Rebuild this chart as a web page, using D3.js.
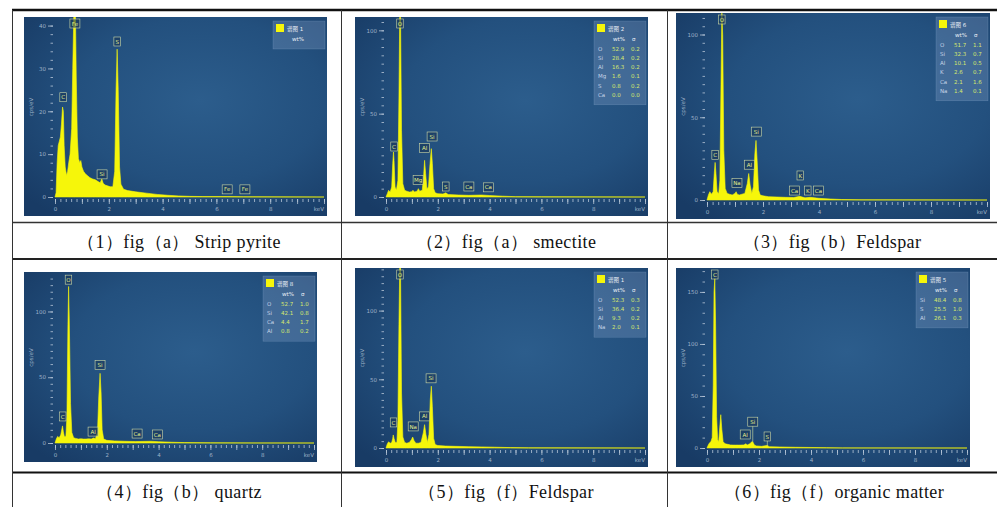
<!DOCTYPE html>
<html>
<head>
<meta charset="utf-8">
<script src="https://cdn.jsdelivr.net/npm/d3@7"></script>
<style>
    body { margin: 0; background: #fff; }
    svg { display: block; }
    .caption { font-family: "Liberation Serif", "DejaVu Serif", serif; font-size: 18px; letter-spacing: 0.4px; fill: #111; }
    .axis .tick text { font-family: "DejaVu Sans", sans-serif; font-size: 5.5px; fill: #9fb2c8; }
    .axis .tick line { stroke: #b7c6d8; stroke-width: 0.8; }
    .small { font-family: "DejaVu Sans", "Noto Sans CJK SC", sans-serif; }
</style>
</head>
<body>
<div id="chart"></div>
<script>
// Captions of the six cells
const captions = [
    '（1）fig（a） Strip pyrite',
    '（2）fig（a） smectite',
    '（3）fig（b）Feldspar',
    '（4）fig（b） quartz',
    '（5）fig（f）Feldspar',
    '（6）fig（f）organic matter'
];

// Spectra: [energy keV, counts cps/eV]
const spectrumPyrite = [[0,0],[0.04,1],[0.08,8],[0.12,12],[0.16,13],[0.2,14],[0.24,17],[0.28,21],[0.31,20],[0.34,12],[0.38,7],[0.43,5],[0.47,6],[0.51,8],[0.56,10],[0.62,16],[0.66,30],[0.7,43],[0.76,43],[0.79,28],[0.83,14],[0.87,9],[0.92,8],[0.96,8.5],[1.0,7],[1.06,6],[1.12,5.5],[1.2,5],[1.3,4.5],[1.4,4.2],[1.5,4],[1.6,3.6],[1.68,3.3],[1.74,4.2],[1.79,3.2],[1.86,2.8],[1.95,2.6],[2.05,2.4],[2.15,2.4],[2.22,6],[2.27,25],[2.31,34.5],[2.35,25],[2.4,7],[2.45,3],[2.55,1.8],[2.7,1.5],[3.0,1.2],[3.4,0.9],[3.8,0.6],[4.2,0.4],[4.6,0.25],[5.0,0.15],[5.5,0.1],[6.4,0.1],[7.0,0.05],[10,0]];
const spectrumSmectite = [[0,0],[0.05,2],[0.1,4],[0.16,3],[0.22,6],[0.26,20],[0.29,27],[0.31,22],[0.35,6],[0.4,4],[0.46,10],[0.5,60],[0.53,110],[0.56,110],[0.6,40],[0.65,8],[0.72,4],[0.8,3.5],[0.9,3],[1.0,3.2],[1.04,4],[1.1,3],[1.2,3.5],[1.25,5],[1.3,3.5],[1.4,4],[1.45,12],[1.49,22],[1.53,14],[1.58,5],[1.64,6],[1.7,20],[1.75,29],[1.79,20],[1.84,5],[1.9,2.5],[2.0,2],[2.2,1.8],[2.31,2.5],[2.4,1.5],[2.8,1.2],[3.2,1],[3.69,1.2],[4.0,0.9],[4.5,0.5],[5,0.2],[6,0.1],[10,0]];
const spectrumFeldsparB = [[0,0],[0.05,3],[0.1,5],[0.16,3.5],[0.22,5],[0.26,16],[0.29,22.7],[0.32,16],[0.36,5],[0.42,4],[0.46,12],[0.5,70],[0.53,113],[0.56,100],[0.6,30],[0.65,7],[0.72,4],[0.8,3.5],[0.9,3],[1.0,4],[1.04,5],[1.08,3.5],[1.15,3],[1.25,3.5],[1.35,4],[1.44,10],[1.49,16],[1.54,9],[1.6,4],[1.66,8],[1.71,28],[1.75,36],[1.79,24],[1.84,6],[1.9,3],[2.0,2.5],[2.2,2],[2.5,1.8],[2.8,1.6],[3.1,1.5],[3.31,2.2],[3.5,1.3],[3.69,1.6],[4.0,1],[4.4,0.6],[4.8,0.3],[5.5,0.1],[10,0]];
const spectrumQuartz = [[0,0],[0.05,3],[0.1,5],[0.16,4],[0.22,6],[0.26,10],[0.29,13],[0.32,9],[0.36,5],[0.42,5],[0.46,20],[0.5,90],[0.525,119],[0.55,95],[0.6,30],[0.65,8],[0.72,4],[0.8,3.5],[0.9,3],[1.0,3.2],[1.1,3],[1.2,3],[1.3,3.2],[1.4,3],[1.49,3.8],[1.56,3.2],[1.64,8],[1.69,35],[1.74,53],[1.78,38],[1.82,10],[1.88,3],[2.0,2],[2.3,1.6],[2.7,1.3],[3.1,1.1],[3.69,1.3],[4.0,1],[4.5,0.6],[5,0.3],[6,0.1],[10,0]];
const spectrumFeldsparF = [[0,0],[0.05,3],[0.1,4.5],[0.16,3.5],[0.22,4],[0.26,7],[0.28,9.5],[0.31,7],[0.36,4],[0.42,4],[0.46,20],[0.5,90],[0.53,131],[0.56,131],[0.6,40],[0.65,8],[0.72,4],[0.8,3.5],[0.9,4],[0.98,6],[1.03,8],[1.08,5.5],[1.15,3.5],[1.25,3.5],[1.35,4],[1.44,11],[1.49,17],[1.54,10],[1.6,4],[1.66,10],[1.71,35],[1.75,45],[1.79,30],[1.84,7],[1.9,2.5],[2.0,1.8],[2.3,1.4],[2.7,1.2],[3.2,1],[3.7,0.8],[4.2,0.6],[4.8,0.3],[5.5,0.1],[10,0]];
const spectrumOrganic = [[0,0],[0.05,3],[0.1,5],[0.15,6],[0.2,10],[0.24,60],[0.27,150],[0.3,163],[0.33,120],[0.37,30],[0.41,8],[0.45,6],[0.49,20],[0.53,32],[0.57,18],[0.62,6],[0.7,4],[0.8,3.5],[0.9,3],[1.0,2.8],[1.1,2.8],[1.2,2.8],[1.3,2.8],[1.42,3],[1.49,4],[1.55,3],[1.65,4],[1.72,6],[1.76,6],[1.82,3],[1.9,2],[2.1,1.6],[2.31,2.5],[2.4,1.3],[2.8,1],[3.4,0.7],[4.0,0.5],[4.6,0.3],[5.2,0.1],[10,0]];

// Peak labels: [element, keV, box bottom value, leader end value or null]
const labelsPyrite = [['C',0.3,22,null],['Fe',0.74,99,null],['S',2.31,35,null],['Si',1.75,4,null],['Fe',6.4,0.5,null],['Fe',7.06,0.5,null]];
const labelsSmectite = [['C',0.31,27,null],['O',0.54,999,null],['Mg',1.24,7,null],['Al',1.49,26,null],['Si',1.78,33,null],['S',2.31,3,null],['Ca',3.2,3,null],['Ca',3.95,2.5,null]];
const labelsFeldsparB = [['C',0.29,24,null],['O',0.53,999,null],['Na',1.07,7,null],['Al',1.51,18,null],['Si',1.76,38,null],['K',3.33,11.5,null],['Ca',3.13,2.4,null],['K',3.6,2.4,null],['Ca',3.98,2.4,null]];
const labelsQuartz = [['C',0.3,16,null],['O',0.52,120,null],['Al',1.47,4.5,null],['Si',1.74,55,null],['Ca',3.17,3,null],['Ca',3.95,2.3,null]];
const labelsFeldsparF = [['C',0.29,14.6,null],['O',0.54,999,null],['Na',1.05,11.7,null],['Al',1.49,19,null],['Si',1.74,46.7,null]];
const labelsOrganic = [['C',0.3,999,null],['Al',1.47,7.7,null],['Si',1.76,20,6],['S',2.32,5.8,2]];

// Legend titles and quantification tables: [element, wt%, sigma]
const legendTitles = ['谱图 1', '谱图 2', '谱图 6', '谱图 8', '谱图 1', '谱图 5'];
const legendPyrite = [];
const legendSmectite = [['O','52.9','0.2'],['Si','28.4','0.2'],['Al','16.3','0.2'],['Mg','1.6','0.1'],['S','0.8','0.2'],['Ca','0.0','0.0']];
const legendFeldsparB = [['O','51.7','1.1'],['Si','32.3','0.7'],['Al','10.1','0.5'],['K','2.6','0.7'],['Ca','2.1','1.6'],['Na','1.4','0.1']];
const legendQuartz = [['O','52.7','1.0'],['Si','42.1','0.8'],['Ca','4.4','1.7'],['Al','0.8','0.2']];
const legendFeldsparF = [['O','52.3','0.3'],['Si','36.4','0.2'],['Al','9.3','0.2'],['Na','2.0','0.1']];
const legendOrganic = [['Si','48.4','0.8'],['S','25.5','1.0'],['Al','26.1','0.3']];

// Axis extents and tick labels
const xMaxKeV = 10;
const xTickLabels = [0, 2, 4, 6, 8];
const yMax = [42, 108, 113, 130, 131, 173];
const yTickLabels = [[0,10,20,30,40],[0,50,100],[0,50,100],[0,50,100],[0,50,100],[0,50,100,150]];
const yMinorStep = [2, 5, 5, 5, 5, 10];

const spectra = [spectrumPyrite, spectrumSmectite, spectrumFeldsparB, spectrumQuartz, spectrumFeldsparF, spectrumOrganic];
const peakLabels = [labelsPyrite, labelsSmectite, labelsFeldsparB, labelsQuartz, labelsFeldsparF, labelsOrganic];
const legends = [legendPyrite, legendSmectite, legendFeldsparB, legendQuartz, legendFeldsparF, legendOrganic];

// Layout of the six picture frames (page pixels)
const frames = [
    {x: 24, y: 17, w: 303, h: 199},
    {x: 355, y: 17, w: 293, h: 199},
    {x: 676, y: 13, w: 314, h: 206},
    {x: 24, y: 272, w: 293, h: 190},
    {x: 355, y: 268, w: 293, h: 199},
    {x: 676, y: 268, w: 294, h: 199}
];
const captionPos = [[179, 248], [506, 248], [832, 248], [179, 498], [506, 498], [834, 498]];

const width = 997, height = 507;
const svg = d3.select('#chart').append('svg')
    .attr('width', width)
    .attr('height', height);

const defs = svg.append('defs');
const grad = defs.append('radialGradient')
    .attr('id', 'bg')
    .attr('cx', 0.58).attr('cy', 0.42).attr('r', 0.75);
grad.append('stop').attr('offset', '0%').attr('stop-color', '#2c5d8c');
grad.append('stop').attr('offset', '55%').attr('stop-color', '#23507e');
grad.append('stop').attr('offset', '100%').attr('stop-color', '#183b65');

// Table rules
const rules = svg.append('g');
rules.append('line').attr('x1', 12).attr('x2', width).attr('y1', 10).attr('y2', 10)
    .attr('stroke', '#111').attr('stroke-width', 2.5);
rules.append('line').attr('x1', 12).attr('x2', width).attr('y1', 222.5).attr('y2', 222.5)
    .attr('stroke', '#333').attr('stroke-width', 1.5);
rules.append('line').attr('x1', 12).attr('x2', width).attr('y1', 259).attr('y2', 259)
    .attr('stroke', '#222').attr('stroke-width', 2);
rules.append('line').attr('x1', 12).attr('x2', width).attr('y1', 472.5).attr('y2', 472.5)
    .attr('stroke', '#111').attr('stroke-width', 2);
[12.5, 341.5, 667.5].forEach(x => {
    rules.append('line').attr('x1', x).attr('x2', x).attr('y1', 10).attr('y2', height)
        .attr('stroke', '#333').attr('stroke-width', 1);
});

frames.forEach((f, i) => {
    const g = svg.append('g');

    // Frame background
    g.append('rect')
        .attr('x', f.x).attr('y', f.y).attr('width', f.w).attr('height', f.h)
        .attr('fill', 'url(#bg)');

    defs.append('clipPath').attr('id', 'clip' + i)
        .append('rect').attr('x', f.x).attr('y', f.y).attr('width', f.w).attr('height', f.h);

    const x0 = f.x + 31, x1 = f.x + f.w - 3;
    const y0 = f.y + f.h - 19;

    const xScale = d3.scaleLinear().domain([0, xMaxKeV]).range([x0, x1]);
    const yScale = d3.scaleLinear().domain([0, yMax[i]]).range([y0, f.y]);

    // Spectrum
    const area = d3.area()
        .x(d => xScale(d[0]))
        .y0(y0)
        .y1(d => yScale(d[1]));

    g.append('path')
        .datum(spectra[i])
        .attr('clip-path', `url(#clip${i})`)
        .attr('d', area)
        .attr('fill', '#f6f60a')
        .attr('stroke', '#f6f60a')
        .attr('stroke-width', 0.6);

    // Y axis, minor then major ticks
    const yMinor = d3.range(0, yMax[i], yMinorStep[i]);
    g.append('g')
        .attr('class', 'axis')
        .attr('transform', `translate(${x0 - 2},0)`)
        .call(d3.axisLeft(yScale).tickValues(yMinor).tickSize(2.5).tickFormat(''))
        .call(a => a.select('.domain').remove());
    g.append('g')
        .attr('class', 'axis')
        .attr('transform', `translate(${x0 - 2},0)`)
        .call(d3.axisLeft(yScale).tickValues(yTickLabels[i]).tickSize(5).tickPadding(2))
        .call(a => a.select('.domain').remove());

    // X axis
    g.append('g')
        .attr('class', 'axis')
        .attr('transform', `translate(0,${y0 + 2})`)
        .call(d3.axisBottom(xScale).tickValues(d3.range(0, xMaxKeV + 0.01, 0.2)).tickSize(3).tickFormat(''))
        .call(a => a.select('.domain').remove());
    g.append('g')
        .attr('class', 'axis')
        .attr('transform', `translate(0,${y0 + 2})`)
        .call(d3.axisBottom(xScale).tickValues(d3.range(0, xMaxKeV + 0.01, 1)).tickSize(5).tickPadding(3)
            .tickFormat(d => xTickLabels.includes(d) ? d : ''))
        .call(a => a.select('.domain').remove());

    g.append('text')
        .attr('class', 'small')
        .attr('x', x1).attr('y', y0 + 14)
        .attr('text-anchor', 'end')
        .attr('font-size', 5.5)
        .attr('fill', '#9fb2c8')
        .text('keV');

    g.append('text')
        .attr('class', 'small')
        .attr('transform', `translate(${f.x + 9},${(f.y + y0) / 2}) rotate(-90)`)
        .attr('text-anchor', 'middle')
        .attr('font-size', 5.5)
        .attr('fill', '#9fb2c8')
        .text('cps/eV');

    // Peak label boxes
    peakLabels[i].forEach(l => {
        const cx = xScale(l[1]);
        const bw = l[0].length > 1 ? 10 : 6.5, bh = 9;
        let by = yScale(Math.min(l[2], yMax[i])) - 1 - bh;
        by = Math.max(by, f.y + 2);
        if (l[3] !== null) {
            g.append('line')
                .attr('x1', cx).attr('x2', cx)
                .attr('y1', by + bh).attr('y2', yScale(l[3]))
                .attr('stroke', '#d9e4a0').attr('stroke-width', 0.6);
        }
        g.append('rect')
            .attr('x', cx - bw / 2).attr('y', by).attr('width', bw).attr('height', bh)
            .attr('fill', 'rgba(25,55,90,0.6)')
            .attr('stroke', '#cfdba8').attr('stroke-width', 0.6);
        g.append('text')
            .attr('class', 'small')
            .attr('x', cx).attr('y', by + 6.6)
            .attr('text-anchor', 'middle')
            .attr('font-size', 5.5)
            .attr('fill', '#e6ee8c')
            .text(l[0]);
    });

    // Legend box
    const rows = legends[i];
    const lx = f.x + f.w - 54, ly = f.y + 4;
    const lw = 52, lh = 28 + rows.length * 9.3;
    const lg = g.append('g');
    lg.append('rect')
        .attr('x', lx).attr('y', ly).attr('width', lw).attr('height', lh)
        .attr('fill', 'rgba(130,160,200,0.32)')
        .attr('stroke', 'rgba(170,195,225,0.35)').attr('stroke-width', 0.5);
    lg.append('rect')
        .attr('x', lx + 3).attr('y', ly + 3).attr('width', 8).attr('height', 8)
        .attr('fill', '#f6f60a');
    lg.append('text')
        .attr('class', 'small')
        .attr('x', lx + 14).attr('y', ly + 9.5)
        .attr('font-size', 5.5).attr('fill', '#e8eef6')
        .text(legendTitles[i]);
    lg.append('text')
        .attr('class', 'small')
        .attr('x', lx + 19).attr('y', ly + 20)
        .attr('font-size', 5.5).attr('fill', '#e8eef6')
        .text('wt%');
    if (rows.length) {
        lg.append('text')
            .attr('class', 'small')
            .attr('x', lx + 38).attr('y', ly + 20)
            .attr('font-size', 5.5).attr('fill', '#e8eef6')
            .text('σ');
    }
    rows.forEach((r, k) => {
        const ry = ly + 29.5 + k * 9.3;
        lg.append('text').attr('class', 'small')
            .attr('x', lx + 4).attr('y', ry)
            .attr('font-size', 5.5).attr('fill', '#c6d4e8')
            .text(r[0]);
        lg.append('text').attr('class', 'small')
            .attr('x', lx + 18).attr('y', ry)
            .attr('font-size', 5.5).attr('fill', '#d6e86e')
            .text(r[1]);
        lg.append('text').attr('class', 'small')
            .attr('x', lx + 37).attr('y', ry)
            .attr('font-size', 5.5).attr('fill', '#d6e86e')
            .text(r[2]);
    });

    // Caption below the frame
    svg.append('text')
        .attr('class', 'caption')
        .attr('x', captionPos[i][0]).attr('y', captionPos[i][1])
        .attr('text-anchor', 'middle')
        .text(captions[i]);
});
</script>
</body>
</html>
